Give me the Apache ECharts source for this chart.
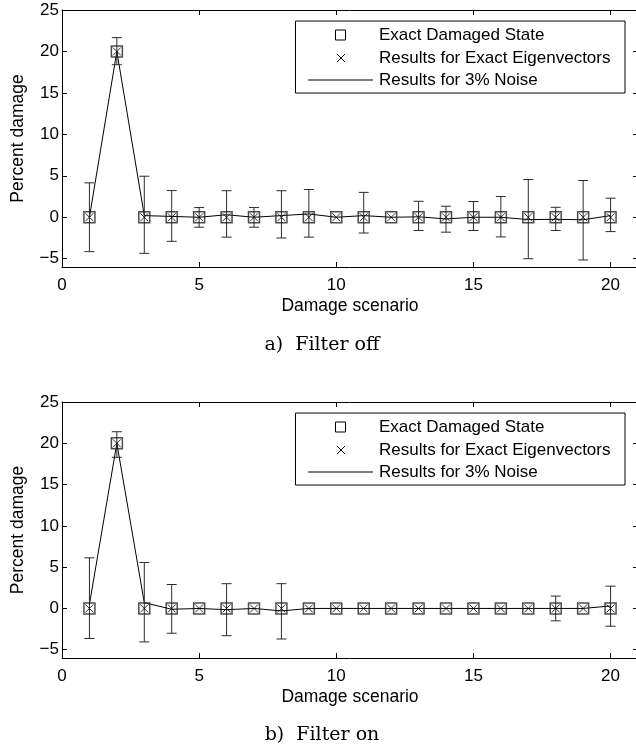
<!DOCTYPE html>
<html>
<head>
<meta charset="utf-8">
<script src="https://cdn.jsdelivr.net/npm/echarts@6/dist/echarts.min.js"></script>
<style>
  html, body { margin: 0; padding: 0; background: #fff; }
  #main { width: 636px; height: 751px; }
</style>
</head>
<body>
<div id="main"></div>
<script>
"use strict";
// damage scenarios 1..20
let scenarios = [1, 2, 3, 4, 5, 6, 7, 8, 9, 10, 11, 12, 13, 14, 15, 16, 17, 18, 19, 20];
let exactState = [0, 20, 0, 0, 0, 0, 0, 0, 0, 0, 0, 0, 0, 0, 0, 0, 0, 0, 0, 0];
let exactEigOff = [0, 20, 0, 0, 0, 0, 0, 0, 0, 0, 0, 0, 0, 0, 0, 0, 0, 0, 0, 0];
let exactEigOn = [0, 20, 0, 0, 0, 0, 0, 0, 0, 0, 0, 0, 0, 0, 0, 0, 0, 0, 0, 0];

// a) filter off, 3% noise: mean and error bar ends
let noiseMeanOff = [0, 20, 0.2, 0.1, 0, 0.3, 0, 0.2, 0.4, 0, 0.2, 0, 0.05, -0.2, 0, 0, -0.28, -0.25, -0.3, 0.2];
let noiseLowOff = [-4.15, 18.4, -4.35, -2.9, -1.2, -2.4, -1.2, -2.5, -2.4, 0, -1.9, 0, -1.6, -1.8, -1.6, -2.37, -5.0, -1.6, -5.15, -1.73];
let noiseHighOff = [4.15, 21.67, 4.95, 3.22, 1.17, 3.2, 1.17, 3.2, 3.35, 0, 3.0, 0, 1.93, 1.33, 1.9, 2.5, 4.55, 1.2, 4.43, 2.3];

// b) filter on
let noiseMeanOn = [0.5, 20, 0.7, -0.1, 0, -0.15, 0, -0.3, 0, 0, 0, 0, 0, 0, 0, 0, 0, 0, 0, 0.3];
let noiseLowOn = [-3.64, 18.3, -4.05, -3.0, 0, -3.3, 0, -3.7, 0, 0, 0, 0, 0, 0, 0, 0, 0, -1.5, 0, -2.15];
let noiseHighOn = [6.13, 21.4, 5.57, 2.9, 0, 3.0, 0, 3.0, 0, 0, 0, 0, 0, 0, 0, 0, 0, 1.5, 0, 2.7];

let legendNames = ['Exact Damaged State', 'Results for Exact Eigenvectors', 'Results for 3% Noise'];
let captions = ['a)  Filter off', 'b)  Filter on'];

const SANS = 'Liberation Sans, Arial, sans-serif';
const CROSS = 'path://M0,0L10,10M10,0L0,10';

let myChart = echarts.init(document.getElementById('main'));

function pairs(ys) {
    return scenarios.map((x, i) => [x, ys[i]]);
}
function bars(lo, hi) {
    return scenarios.map((x, i) => [x, lo[i], hi[i]]);
}

function renderErrorBar(params, api) {
    let lo = api.value(1), hi = api.value(2);
    if (lo === hi) return { type: 'group', children: [] };
    let top = api.coord([api.value(0), hi]);
    let bot = api.coord([api.value(0), lo]);
    let half = 5;
    let style = { stroke: '#2b2b2b', lineWidth: 1, fill: null };
    return {
        type: 'group',
        children: [
            { type: 'line', shape: { x1: top[0], y1: top[1], x2: bot[0], y2: bot[1] }, style: style },
            { type: 'line', shape: { x1: top[0] - half, y1: top[1], x2: top[0] + half, y2: top[1] }, style: style },
            { type: 'line', shape: { x1: bot[0] - half, y1: bot[1], x2: bot[0] + half, y2: bot[1] }, style: style }
        ]
    };
}

function tickFmt(v) {
    if (v % 5 !== 0) return '';
    return v < 0 ? '\u2212' + (-v) : String(v);
}

function xAxes(grid) {
    let base = {
        type: 'value', gridIndex: grid, min: 0, max: 21, splitNumber: 4, minInterval: 5, maxInterval: 5,
        axisLine: { show: true, onZero: false, lineStyle: { color: '#000', width: 1 } },
        axisTick: { show: true, inside: true, length: 5, lineStyle: { color: '#000' } },
        splitLine: { show: false }
    };
    return [
        Object.assign({}, base, {
            position: 'bottom',
            name: 'Damage scenario', nameLocation: 'middle', nameGap: 30,
            nameTextStyle: { fontFamily: SANS, fontSize: 17.5, color: '#000' },
            axisLabel: { fontFamily: SANS, fontSize: 17, color: '#000', margin: 10, formatter: tickFmt }
        }),
        Object.assign({}, base, { position: 'top', axisLabel: { show: false } })
    ];
}

function yAxes(grid) {
    let base = {
        type: 'value', gridIndex: grid, min: -6, max: 25, splitNumber: 6, minInterval: 5, maxInterval: 5,
        axisLine: { show: true, onZero: false, lineStyle: { color: '#000', width: 1 } },
        axisTick: { show: true, inside: true, length: 5, lineStyle: { color: '#000' } },
        splitLine: { show: false }
    };
    return [
        Object.assign({}, base, {
            position: 'left',
            name: 'Percent damage', nameLocation: 'middle', nameGap: 35,
            nameTextStyle: { fontFamily: SANS, fontSize: 17.5, color: '#000' },
            axisLabel: { fontFamily: SANS, fontSize: 17, color: '#000', margin: 3, formatter: tickFmt }
        }),
        Object.assign({}, base, { position: 'right', axisLabel: { show: false } })
    ];
}

function panelSeries(axisIdx, mean, lo, hi, eig) {
    return [
        {
            name: legendNames[2], type: 'line', xAxisIndex: axisIdx, yAxisIndex: axisIdx,
            data: pairs(mean), showSymbol: false, symbol: 'none',
            lineStyle: { color: '#000', width: 1 }, z: 2, animation: false
        },
        {
            type: 'custom', xAxisIndex: axisIdx, yAxisIndex: axisIdx,
            data: bars(lo, hi), encode: { x: 0, y: [1, 2] },
            renderItem: renderErrorBar, z: 3, animation: false
        },
        {
            name: legendNames[0], type: 'scatter', xAxisIndex: axisIdx, yAxisIndex: axisIdx,
            data: pairs(exactState), symbol: 'rect', symbolSize: 11,
            itemStyle: { color: 'rgba(0,0,0,0)', borderColor: '#222', borderWidth: 1.5 }, z: 4, animation: false
        },
        {
            name: legendNames[1], type: 'scatter', xAxisIndex: axisIdx, yAxisIndex: axisIdx,
            data: pairs(eig), symbol: CROSS, symbolSize: 8,
            itemStyle: { color: 'rgba(0,0,0,0)', borderColor: '#000', borderWidth: 1 }, z: 5, animation: false
        }
    ];
}

// legend box drawn by hand, like the MATLAB one
function legendBox(top) {
    let rows = [top + 14, top + 37, top + 59];
    let txt = (y, s) => ({
        type: 'text', x: 379, y: y, z: 11,
        style: { text: s, fontFamily: SANS, fontSize: 17, fill: '#000', verticalAlign: 'middle' }
    });
    return [
        { type: 'rect', shape: { x: 295.5, y: top, width: 329.5, height: 72 }, style: { fill: '#fff', stroke: '#000', lineWidth: 1 }, z: 10 },
        { type: 'rect', shape: { x: 335.5, y: rows[0] - 5, width: 10, height: 10 }, style: { fill: null, stroke: '#000', lineWidth: 1 }, z: 11 },
        { type: 'polyline', shape: { points: [[337, rows[1] - 4], [345, rows[1] + 4]] }, style: { stroke: '#000', lineWidth: 1 }, z: 11 },
        { type: 'polyline', shape: { points: [[345, rows[1] - 4], [337, rows[1] + 4]] }, style: { stroke: '#000', lineWidth: 1 }, z: 11 },
        { type: 'line', shape: { x1: 308, y1: rows[2], x2: 373, y2: rows[2] }, style: { stroke: '#000', lineWidth: 1 }, z: 11 },
        txt(rows[0], legendNames[0]),
        txt(rows[1], legendNames[1]),
        txt(rows[2], legendNames[2])
    ];
}

function caption(y, s) {
    return {
        type: 'text', x: 322, y: y, z: 11,
        style: { text: s, fontFamily: 'DejaVu Serif, serif', fontSize: 19, fill: '#000', align: 'center', verticalAlign: 'middle' }
    };
}

let option = {
    backgroundColor: '#fff',
    animation: false,
    grid: [
        { left: 62, top: 10, width: 576, height: 257, outerBoundsMode: 'none', containLabel: false },
        { left: 62, top: 402, width: 576, height: 256, outerBoundsMode: 'none', containLabel: false }
    ],
    xAxis: xAxes(0).concat(xAxes(1)),
    yAxis: yAxes(0).concat(yAxes(1)),
    series: panelSeries(0, noiseMeanOff, noiseLowOff, noiseHighOff, exactEigOff)
        .concat(panelSeries(2, noiseMeanOn, noiseLowOn, noiseHighOn, exactEigOn)),
    graphic: legendBox(21).concat(legendBox(413)).concat([caption(345, captions[0]), caption(735, captions[1])])
};
myChart.setOption(option);
</script>
</body>
</html>
